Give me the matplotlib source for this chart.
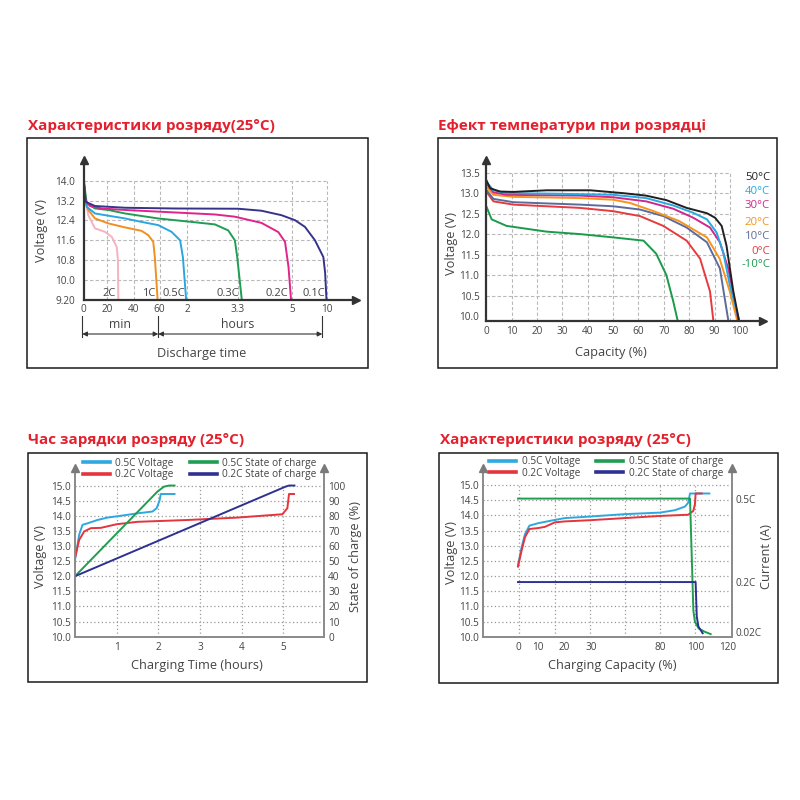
import numpy as np
import matplotlib
matplotlib.use("Agg")
import matplotlib.pyplot as plt
from matplotlib.patches import Rectangle
from matplotlib.lines import Line2D

plt.rcParams['font.family'] = ['Open Sans', 'DejaVu Sans']

# ---------------- DATA ----------------
# Panel 1: discharge characteristics, time in hours, voltage in V
p1_rates = ["2C", "1C", "0.5C", "0.3C", "0.2C", "0.1C"]
p1_tick_hours = [0, 1/3, 2/3, 1, 2, 3.3, 5, 10]
p1_tick_labels = ["0", "20", "40", "60", "2", "3.3", "5", "10"]
p1_yticks = [14.0, 13.2, 12.4, 11.6, 10.8, 10.0, 9.2]
p1_ylabels = ["14.0", "13.2", "12.4", "11.6", "10.8", "10.0", "9.20"]

t_2c = [0, 0.021, 0.068, 0.163, 0.305, 0.393, 0.456, 0.471, 0.476]
v_2c = [14.0, 13.35, 12.61, 12.08, 11.94, 11.74, 11.33, 10.8, 9.2]
t_1c = [0, 0.021, 0.068, 0.163, 0.35, 0.56, 0.77, 0.855, 0.92, 0.94, 0.976]
v_1c = [14.05, 13.22, 12.82, 12.48, 12.28, 12.12, 11.98, 11.81, 11.54, 10.93, 9.2]
t_05c = [0, 0.02, 0.045, 0.163, 0.35, 0.56, 0.77, 0.985, 1.44, 1.75, 1.85, 1.97]
v_05c = [14.3, 13.4, 12.95, 12.68, 12.59, 12.48, 12.34, 12.21, 11.94, 11.6, 10.93, 9.2]
t_03c = [0, 0.045, 0.163, 0.35, 0.56, 0.98, 2.12, 2.71, 3.05, 3.22, 3.28, 3.42]
v_03c = [14.1, 13.09, 12.88, 12.82, 12.68, 12.48, 12.34, 12.24, 12.0, 11.6, 10.93, 9.2]
t_02c = [0, 0.03, 0.092, 0.258, 0.56, 1.56, 2.71, 3.22, 4.04, 4.57, 4.78, 4.89, 4.97]
v_02c = [14.05, 13.2, 12.98, 12.88, 12.82, 12.72, 12.64, 12.55, 12.3, 11.93, 11.54, 10.53, 9.2]
t_01c = [0, 0.03, 0.163, 0.56, 1.56, 3.31, 4.04, 4.67, 5.43, 6.88, 8.33, 9.54, 9.8, 10.0]
v_01c = [14.1, 13.15, 12.98, 12.91, 12.88, 12.87, 12.79, 12.61, 12.41, 12.14, 11.6, 10.93, 10.3, 9.2]

# Panel 2: temperature effect, capacity %, voltage V
p2_temps = ["50°C", "40°C", "30°C", "20°C", "10°C", "0°C", "-10°C"]
cap_50 = [0, 1.5, 5.4, 10.6, 23.8, 41, 54, 63, 71, 79, 87, 90.2, 92.8, 94.7, 97.4, 99.6]
v_50 = [13.32, 13.12, 13.04, 13.03, 13.07, 13.07, 13.0, 12.94, 12.83, 12.64, 12.51, 12.4, 12.2, 11.72, 10.6, 9.9]
cap_40 = [0, 2.8, 8, 23.8, 50, 63, 73.7, 81.6, 87, 90.8, 93.4, 96, 99.7]
v_40 = [13.28, 13.07, 13.0, 12.99, 12.96, 12.88, 12.7, 12.52, 12.36, 12.04, 11.56, 10.76, 9.9]
cap_30 = [0, 2.8, 8, 37, 50, 63, 73.7, 81.6, 88.2, 92.1, 95.4, 99.4]
v_30 = [13.24, 13.02, 12.96, 12.94, 12.9, 12.8, 12.62, 12.4, 12.16, 11.8, 11.16, 9.9]
cap_20 = [0, 2.8, 10.6, 37, 50, 56.7, 66, 76, 87, 92, 96, 98.9]
v_20 = [13.16, 12.96, 12.91, 12.88, 12.84, 12.76, 12.56, 12.32, 11.92, 11.4, 10.6, 9.9]
cap_10 = [0, 2.8, 10.6, 37, 50, 60.6, 69.8, 79, 87, 92.1, 95.4]
v_10 = [13.08, 12.86, 12.78, 12.72, 12.68, 12.6, 12.44, 12.16, 11.8, 11.16, 9.9]
cap_0 = [0, 2.8, 10.6, 37, 50, 60.6, 69.8, 79, 84.3, 88.2, 89.5]
v_0 = [13.04, 12.8, 12.72, 12.64, 12.56, 12.44, 12.2, 11.84, 11.4, 10.6, 9.9]
cap_m10 = [0, 2.1, 8, 23.8, 37, 50, 62, 67, 71, 73.7, 75.4]
v_m10 = [12.68, 12.36, 12.2, 12.06, 12.0, 11.92, 11.84, 11.52, 11.0, 10.36, 9.9]

# Panel 3: charging time (hours) vs voltage / state of charge
p3_series = ["0.5C Voltage", "0.2C Voltage", "0.5C State of charge", "0.2C State of charge"]
t3_05v = [0, 0.1, 0.18, 0.3, 0.54, 0.78, 1.1, 1.5, 1.86, 1.96, 2.03, 2.06, 2.39]
v3_05v = [12.54, 13.37, 13.7, 13.75, 13.86, 13.94, 14.0, 14.08, 14.14, 14.25, 14.5, 14.72, 14.72]
t3_02v = [0, 0.1, 0.22, 0.38, 0.62, 1.0, 1.5, 2.7, 3.9, 4.98, 5.1, 5.14, 5.26]
v3_02v = [12.6, 13.2, 13.48, 13.59, 13.6, 13.72, 13.8, 13.86, 13.94, 14.05, 14.25, 14.72, 14.72]
t3_05s = [0, 1.98, 2.14, 2.26, 2.39]
s3_05s = [40, 96, 99.3, 100, 100]
t3_02s = [0, 5.06, 5.14, 5.27]
s3_02s = [40, 99.3, 100, 100]

# Panel 4: charging capacity (%) vs voltage / current
p4_series = ["0.5C Voltage", "0.2C Voltage", "0.5C State of charge", "0.2C State of charge"]
p4_xticks = [0, 10, 20, 30, 80, 100, 120]
c4_05v = [0, 1.8, 3.5, 5.7, 10, 16.4, 20.2, 29.6, 54.5, 80, 88.5, 94.2, 96, 97, 108.6]
v4_05v = [12.35, 12.95, 13.38, 13.66, 13.74, 13.85, 13.91, 13.96, 14.04, 14.09, 14.17, 14.29, 14.42, 14.72, 14.72]
c4_02v = [0, 1.8, 3.5, 5.7, 10, 12.6, 16.4, 20.2, 29.6, 54.5, 80, 96, 98.9, 99.8, 100.2, 103.9]
v4_02v = [12.31, 12.84, 13.28, 13.55, 13.58, 13.62, 13.77, 13.80, 13.84, 13.91, 13.98, 14.02, 14.15, 14.37, 14.72, 14.72]
c4_05i = [0, 97, 98.9, 99.8, 102.1, 105.9, 109.4]
i4_05i = [0.5, 0.5, 0.098, 0.057, 0.033, 0.021, 0.013]
c4_02i = [0, 100.2, 100.9, 101.9, 104.5]
i4_02i = [0.2, 0.2, 0.076, 0.040, 0.016]
p4_rticks = [0.5, 0.2, 0.02]
p4_rlabels = ["0.5C", "0.2C", "0.02C"]

# ---------------- LAYOUT HELPERS ----------------
W = H = 800
fig = plt.figure(figsize=(8, 8), dpi=100)
fig.patch.set_facecolor('white')

def fx(px): return px / W
def fy(py): return 1 - py / H
def ax_rect(l, t, r, b): return [fx(l), fy(b), (r - l) / W, (b - t) / H]
def ftext(x, y, s, **kw): return fig.text(fx(x), fy(y), s, **kw)

def box(l, t, r, b):
    fig.patches.append(Rectangle((fx(l), fy(b)), (r - l) / W, (b - t) / H,
                                 transform=fig.transFigure, fill=False,
                                 ec='#1a1a1a', lw=1.1))

def make_scale(d, p):
    d = np.asarray(d, float); p = np.asarray(p, float)
    return (lambda x: np.interp(x, d, p), lambda y: np.interp(y, p, d))

TITLE_C = '#e4202d'
TXT = '#444444'
GRID_DASH = dict(color='#b8b8b8', lw=0.8, ls=(0, (3, 2)))
GRID_DOT = dict(color='#9a9a9a', lw=0.9, ls=(0, (1, 2)))
TITLE_FS = 11
TICK_FS = 7.2
AXL_FS = 9.2

def arrow_marks(ax, color, which):
    for (x, y, m) in which:
        ax.plot([x], [y], marker=m, ms=5.5, color=color, transform=ax.transAxes,
                clip_on=False, zorder=10)

# ---------------- PANEL 1 ----------------
box(27, 138, 368, 368)
ftext(28, 126, "Характеристики розряду(25°C)", color=TITLE_C, fontsize=TITLE_FS,
      fontweight='bold', ha='left', va='center')
ax1 = fig.add_axes(ax_rect(83.5, 160, 356, 300))
ax1.set_xscale('function', functions=make_scale(
    [0, 1/3, 2/3, 1, 2, 3.3, 5, 10, 14.28],
    [83.5, 107, 133.5, 159.5, 187, 238, 292, 326.5, 356]))
ax1.set_xlim(0, 14.28)
ax1.set_ylim(9.2, 14.83)
for sp in ['top', 'right']:
    ax1.spines[sp].set_visible(False)
for sp in ['left', 'bottom']:
    ax1.spines[sp].set_color('#333333'); ax1.spines[sp].set_linewidth(1.6)
arrow_marks(ax1, '#333333', [(0, 1, '^'), (1, 0, '>')])
ax1.set_xticks(p1_tick_hours, p1_tick_labels)
ax1.set_yticks(p1_yticks, p1_ylabels)
ax1.tick_params(length=0, labelsize=TICK_FS, labelcolor=TXT)
ax1.tick_params(axis='y', pad=6)
ax1.tick_params(axis='x', pad=3)
ax1.hlines(p1_yticks[:-1], 0, 10, zorder=0, **GRID_DASH)
ax1.vlines(p1_tick_hours[1:], 9.2, 14.0, zorder=0, **GRID_DASH)
p1_colors = ['#f5b3c0', '#f0901e', '#2ba6de', '#1f9d55', '#e0248a', '#35348a']
p1_data = [(t_2c, v_2c), (t_1c, v_1c), (t_05c, v_05c), (t_03c, v_03c), (t_02c, v_02c), (t_01c, v_01c)]
for (t, v), c in zip(p1_data, p1_colors):
    ax1.plot(t, v, color=c, lw=1.4, solid_capstyle='round')
for lab, xpx in zip(p1_rates, [109.3, 148.3, 174, 228.3, 276.7, 314.3]):
    ftext(xpx, 293.5, lab, fontsize=8, color=TXT, ha='center', va='center')
ftext(41.7, 230, "Voltage (V)", rotation=90, fontsize=AXL_FS, color=TXT, ha='center', va='center')
ftext(201.7, 354, "Discharge time", fontsize=AXL_FS, color=TXT, ha='center', va='center')
ftext(120, 324, "min", fontsize=8.8, color=TXT, ha='center', va='center')
ftext(238, 324, "hours", fontsize=8.8, color=TXT, ha='center', va='center')
for xb in [82.3, 158.3, 322.3]:
    fig.add_artist(Line2D([fx(xb), fx(xb)], [fy(316), fy(337)], color='#333333', lw=0.8))
for (xa, xb) in [(82.3, 158.3), (158.3, 322.3)]:
    fig.add_artist(matplotlib.patches.FancyArrowPatch(
        (fx(xa), fy(334)), (fx(xb), fy(334)), transform=fig.transFigure,
        arrowstyle='<|-|>', mutation_scale=7, color='#333333', lw=0.8,
        shrinkA=0, shrinkB=0))

# ---------------- PANEL 2 ----------------
box(438, 138, 777, 368)
ftext(438, 126, "Ефект температури при розрядці", color=TITLE_C, fontsize=TITLE_FS,
      fontweight='bold', ha='left', va='center')
ax2 = fig.add_axes(ax_rect(486.3, 160, 763, 320.7))
ax2.set_xlim(0, 109.1)
ax2.set_ylim(9.885, 13.81)
for sp in ['top', 'right']:
    ax2.spines[sp].set_visible(False)
for sp in ['left', 'bottom']:
    ax2.spines[sp].set_color('#333333'); ax2.spines[sp].set_linewidth(1.6)
arrow_marks(ax2, '#333333', [(0, 1, '^'), (1, 0, '>')])
p2_yt = [10.0, 10.5, 11.0, 11.5, 12.0, 12.5, 13.0, 13.5]
ax2.set_yticks(p2_yt, [f"{v:.1f}" for v in p2_yt])
ax2.set_xticks(range(0, 101, 10))
ax2.tick_params(length=0, labelsize=TICK_FS, labelcolor=TXT)
ax2.tick_params(axis='y', pad=5)
ax2.tick_params(axis='x', pad=4)
ax2.hlines(p2_yt[1:], 0, 96, zorder=0, **GRID_DASH)
ax2.vlines(list(range(10, 91, 10)) + [96], 9.885, 13.5, zorder=0, **GRID_DASH)
p2_colors = ['#231f20', '#27aae1', '#d1268c', '#f7941d', '#5c6b9c', '#e63a3f', '#1a9b4b']
p2_data = [(cap_50, v_50), (cap_40, v_40), (cap_30, v_30), (cap_20, v_20),
           (cap_10, v_10), (cap_0, v_0), (cap_m10, v_m10)]
for (c, v), col in list(zip(p2_data, p2_colors))[::-1]:
    ax2.plot(c, v, color=col, lw=1.4, solid_capstyle='round')
for lab, col, ypx in zip(p2_temps, p2_colors, [177.7, 191, 206, 222.7, 236.7, 251, 264.3]):
    ftext(770, ypx, lab, fontsize=8.2, color=col, ha='right', va='center')
ftext(451.7, 243.3, "Voltage (V)", rotation=90, fontsize=AXL_FS, color=TXT, ha='center', va='center')
ftext(611, 352.7, "Capacity (%)", fontsize=AXL_FS, color=TXT, ha='center', va='center')

# ---------------- PANEL 3 ----------------
box(28, 453, 367, 682)
ftext(28, 440, "Час зарядки розряду (25°C)", color=TITLE_C, fontsize=TITLE_FS,
      fontweight='bold', ha='left', va='center')
ax3 = fig.add_axes(ax_rect(75, 468.3, 324, 636.7))
ax3.set_xlim(0, 5.98)
ax3.set_ylim(10, 15.57)
ax3r = ax3.twinx()
ax3r.set_ylim(0, 111.4)
for a in (ax3, ax3r):
    a.spines['top'].set_visible(False)
    for sp in ['left', 'right', 'bottom']:
        a.spines[sp].set_color('#8a8a8a'); a.spines[sp].set_linewidth(1.2)
arrow_marks(ax3r, '#7a7a7a', [(0, 1, '^'), (1, 1, '^')])
p3_yt = [10.0, 10.5, 11.0, 11.5, 12.0, 12.5, 13.0, 13.5, 14.0, 14.5, 15.0]
ax3.set_yticks(p3_yt, [f"{v:.1f}" for v in p3_yt])
ax3.set_xticks([1, 2, 3, 4, 5])
ax3r.set_yticks(range(0, 101, 10))
ax3.tick_params(length=0, labelsize=TICK_FS, labelcolor=TXT)
ax3.tick_params(axis='y', pad=3)
ax3.tick_params(axis='x', pad=4)
ax3r.tick_params(length=0, labelsize=TICK_FS, labelcolor=TXT, pad=3)
ax3.hlines(p3_yt[1:], 0, 5.98, zorder=0, **GRID_DOT)
ax3.vlines([1, 2, 3, 4, 5], 10, 15, zorder=0, **GRID_DOT)
C_BLUE, C_RED, C_GREEN, C_NAVY = '#2ea8e0', '#e4343c', '#1f9e4f', '#2e3192'
ax3.plot(t3_05v, v3_05v, color=C_BLUE, lw=1.4)
ax3.plot(t3_02v, v3_02v, color=C_RED, lw=1.4)
ax3r.plot(t3_05s, s3_05s, color=C_GREEN, lw=1.4)
ax3r.plot(t3_02s, s3_02s, color=C_NAVY, lw=1.4)
hnd = [Line2D([], [], color=c, lw=2.6) for c in (C_BLUE, C_RED, C_GREEN, C_NAVY)]
ax3r.legend(hnd, p3_series, ncol=2, loc='center', bbox_to_anchor=(fx(199.5), fy(469)),
            bbox_transform=fig.transFigure, frameon=False, fontsize=7.3,
            handlelength=2.7, handletextpad=0.5, columnspacing=1.6, labelspacing=0.05,
            labelcolor=TXT, borderpad=0)
ftext(40.7, 557, "Voltage (V)", rotation=90, fontsize=AXL_FS, color=TXT, ha='center', va='center')
ftext(355, 557, "State of charge (%)", rotation=90, fontsize=AXL_FS, color=TXT, ha='center', va='center')
ftext(196.7, 665, "Charging Time (hours)", fontsize=AXL_FS, color=TXT, ha='center', va='center')

# ---------------- PANEL 4 ----------------
box(439, 453, 778, 683)
ftext(440, 440, "Характеристики розряду (25°C)", color=TITLE_C, fontsize=TITLE_FS,
      fontweight='bold', ha='left', va='center')
ax4 = fig.add_axes(ax_rect(483.3, 467.7, 731.7, 636.7))
p4_d = [-17.4, 0, 10, 20, 30, 80, 100, 120, 122.3]
p4_p = [483.3, 518, 538, 564.5, 591.3, 660, 695.3, 728, 731.7]
ax4.set_xscale('function', functions=make_scale(p4_d, p4_p))
ax4.set_xlim(-17.4, 122.3)
ax4.set_ylim(10, 15.57)
ax4r = ax4.twinx()
ax4r.set_ylim(0.0036, 0.611)
for a in (ax4, ax4r):
    a.spines['top'].set_visible(False)
    for sp in ['left', 'right', 'bottom']:
        a.spines[sp].set_color('#8a8a8a'); a.spines[sp].set_linewidth(1.2)
arrow_marks(ax4r, '#7a7a7a', [(0, 1, '^'), (1, 1, '^')])
ax4.set_yticks(p3_yt, [f"{v:.1f}" for v in p3_yt])
ax4.set_xticks(p4_xticks)
ax4r.set_yticks(p4_rticks, p4_rlabels)
ax4.tick_params(length=0, labelsize=TICK_FS, labelcolor=TXT)
ax4.tick_params(axis='y', pad=3)
ax4.tick_params(axis='x', pad=4)
ax4r.tick_params(length=0, labelsize=TICK_FS, labelcolor=TXT, pad=3)
ax4.hlines(p3_yt[1:], -17.4, 122.3, zorder=0, **GRID_DOT)
grid4 = np.interp([519, 554.5, 590, 625, 660, 695], p4_p, p4_d)
ax4.vlines(grid4, 10, 15, zorder=0, **GRID_DOT)
ax4.plot(c4_05v, v4_05v, color=C_BLUE, lw=1.4)
ax4.plot(c4_02v, v4_02v, color=C_RED, lw=1.4)
ax4r.plot(c4_05i, i4_05i, color=C_GREEN, lw=1.4)
ax4r.plot(c4_02i, i4_02i, color=C_NAVY, lw=1.4)
ax4r.legend(hnd, p4_series, ncol=2, loc='center', bbox_to_anchor=(fx(606), fy(467.5)),
            bbox_transform=fig.transFigure, frameon=False, fontsize=7.3,
            handlelength=2.7, handletextpad=0.5, columnspacing=1.6, labelspacing=0.05,
            labelcolor=TXT, borderpad=0)
ftext(451.7, 553, "Voltage (V)", rotation=90, fontsize=AXL_FS, color=TXT, ha='center', va='center')
ftext(766.7, 556.7, "Current (A)", rotation=90, fontsize=AXL_FS, color=TXT, ha='center', va='center')
ftext(612.7, 665, "Charging Capacity (%)", fontsize=AXL_FS, color=TXT, ha='center', va='center')

fig.savefig("out.png", dpi=100, facecolor='white')
